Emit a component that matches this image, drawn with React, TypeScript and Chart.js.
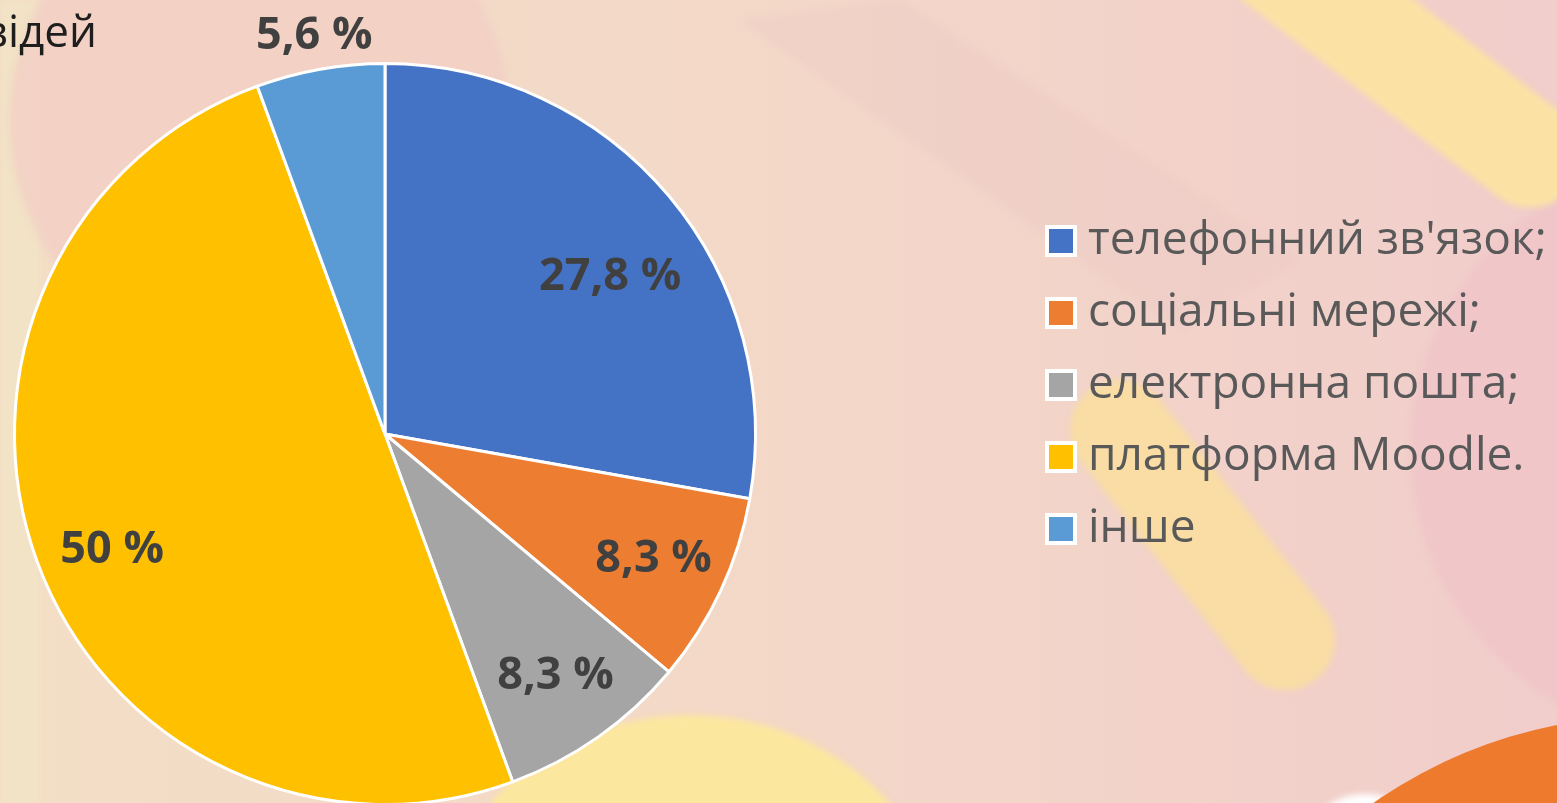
import React, { useEffect, useRef } from "react";
import { Chart, registerables } from "chart.js";

Chart.register(...registerables);

const categories: string[] = [
  "телефонний зв'язок;",
  "соціальні мережі;",
  "електронна пошта;",
  "платформа Moodle.",
  "інше",
];
const values: number[] = [27.8, 8.3, 8.3, 50, 5.6];
const valueLabels: string[] = ["27,8 %", "8,3 %", "8,3 %", "50 %", "5,6 %"];
const colors: string[] = ["#4472C4", "#ED7D31", "#A5A5A5", "#FFC000", "#5B9BD5"];
const titleFragment = "відей";

const W = 1557;
const H = 803;
const CH = 860;

const backgroundPlugin = {
  id: "bgPlugin",
  beforeDraw(chart: any) {
    const ctx: CanvasRenderingContext2D = chart.ctx;
    ctx.save();
    const g = ctx.createLinearGradient(0, 0, W, 0);
    g.addColorStop(0, "#F3DEC6");
    g.addColorStop(0.5, "#F3D8C8");
    g.addColorStop(1, "#F1CDCB");
    ctx.fillStyle = g;
    ctx.fillRect(0, 0, W, CH);

    ctx.filter = "blur(3px)";
    ctx.fillStyle = "#F2E2C6";
    ctx.fillRect(0, 0, 40, CH);
    ctx.fillStyle = "rgba(242, 208, 196, 0.85)";
    ctx.beginPath();
    ctx.arc(260, 120, 250, 0, Math.PI * 2);
    ctx.fill();
    ctx.fillStyle = "rgba(236, 200, 196, 0.35)";
    ctx.beginPath();
    ctx.moveTo(740, 20);
    ctx.lineTo(900, 0);
    ctx.lineTo(1300, 260);
    ctx.lineTo(1180, 330);
    ctx.closePath();
    ctx.fill();
    ctx.fillStyle = "rgba(240, 196, 200, 0.8)";
    ctx.beginPath();
    ctx.arc(1700, 450, 290, 0, Math.PI * 2);
    ctx.fill();
    ctx.strokeStyle = "#FBE2A4";
    ctx.lineCap = "round";
    ctx.lineWidth = 105;
    ctx.beginPath();
    ctx.moveTo(1250, -60);
    ctx.lineTo(1530, 155);
    ctx.stroke();
    ctx.strokeStyle = "rgba(250, 222, 160, 0.9)";
    ctx.lineWidth = 100;
    ctx.beginPath();
    ctx.moveTo(1120, 430);
    ctx.lineTo(1285, 640);
    ctx.stroke();
    ctx.fillStyle = "#FCE79E";
    ctx.beginPath();
    ctx.ellipse(690, 960, 260, 245, 0, 0, Math.PI * 2);
    ctx.fill();
    ctx.fillStyle = "#FFFFFF";
    ctx.beginPath();
    ctx.ellipse(1365, 830, 50, 36, 0, 0, Math.PI * 2);
    ctx.fill();
    ctx.filter = "none";
    ctx.fillStyle = "#EE7A2E";
    ctx.beginPath();
    ctx.arc(1650, 1200, 484, 0, Math.PI * 2);
    ctx.fill();
    ctx.restore();
  },
};

const overlayPlugin = {
  id: "overlayPlugin",
  afterDatasetsDraw(chart: any) {
    const ctx: CanvasRenderingContext2D = chart.ctx;
    const meta = chart.getDatasetMeta(0);
    const total = values.reduce((a, b) => a + b, 0);
    ctx.save();
    ctx.font = "bold 45px 'Open Sans'";
    ctx.fillStyle = "#404040";
    ctx.textAlign = "center";
    ctx.textBaseline = "middle";
    meta.data.forEach((arc: any, i: number) => {
      const p = arc.getProps(["x", "y", "startAngle", "endAngle", "outerRadius"], true);
      const share = values[i] / total;
      const outside = share < 0.07 && i === values.length - 1;
      const mid = (p.startAngle + p.endAngle) / 2 + (share > 0.2 && share < 0.4 ? 0.09 : share >= 0.4 ? -0.05 : 0);
      const f = outside ? 1.09 : share > 0.2 && share < 0.4 ? 0.74 : 0.8;
      const r = p.outerRadius * f;
      ctx.fillText(valueLabels[i], p.x + Math.cos(mid) * r, p.y + Math.sin(mid) * r);
    });

    const lx = 1045;
    const ly0 = 241;
    const step = 72;
    ctx.font = "46px 'Open Sans'";
    ctx.textAlign = "left";
    ctx.textBaseline = "middle";
    categories.forEach((c, i) => {
      const cy = ly0 + i * step;
      ctx.fillStyle = "#FFFFFF";
      ctx.fillRect(lx, cy - 16, 32, 32);
      ctx.fillStyle = colors[i];
      ctx.fillRect(lx + 4, cy - 12, 24, 24);
      ctx.fillStyle = "#595959";
      ctx.fillText(c, 1088, cy);
    });

    ctx.font = "44px 'Open Sans'";
    ctx.fillStyle = "#1E1E1E";
    ctx.textAlign = "right";
    ctx.textBaseline = "alphabetic";
    ctx.fillText(titleFragment, 97, 47);
    ctx.restore();
  },
};

export default function App() {
  const ref = useRef<HTMLCanvasElement | null>(null);
  useEffect(() => {
    document.body.style.margin = "0";
    const canvas = ref.current;
    if (!canvas) return;
    const chart = new Chart(canvas, {
      type: "pie",
      data: {
        labels: categories,
        datasets: [
          {
            data: values,
            backgroundColor: colors,
            borderColor: "#FFFFFF",
            borderWidth: 3,
          },
        ],
      },
      options: {
        responsive: false,
        animation: false,
        events: [],
        layout: { padding: { left: 13, top: 62, right: W - 13 - 744, bottom: CH - 62 - 744 } },
        plugins: {
          legend: { display: false },
          tooltip: { enabled: false },
          title: { display: false },
        },
      },
      plugins: [backgroundPlugin, overlayPlugin],
    });
    return () => chart.destroy();
  }, []);
  return (
    <div style={{ position: "fixed", left: 0, top: 0, width: W, height: H, overflow: "hidden" }}>
      <canvas ref={ref} width={W} height={CH} style={{ width: W, height: CH, display: "block" }} />
    </div>
  );
}
